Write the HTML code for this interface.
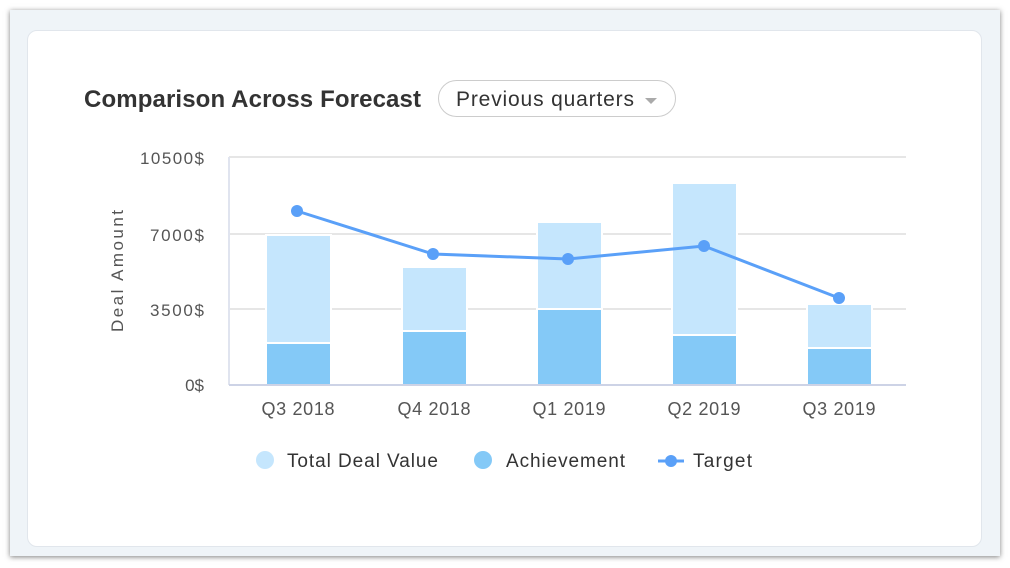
<!DOCTYPE html>
<html><head><meta charset="utf-8"><style>
body{margin:0;width:1010px;height:568px;background:#fff;overflow:hidden;font-family:"Liberation Sans",sans-serif}
.outer{position:absolute;left:10px;top:10px;width:990px;height:546px;background:#eff4f8;box-shadow:0 1px 5px rgba(0,0,0,.5)}
.card{position:absolute;left:27px;top:30px;width:953px;height:515px;background:#fff;border:1px solid #e1e6ec;border-radius:10px}
</style></head><body>
<div class="outer"></div>
<div class="card"></div>
<svg width="1010" height="568" style="position:absolute;left:0;top:0" font-family="Liberation Sans, sans-serif">
<text x="84" y="107" font-size="24" font-weight="bold" fill="#333" textLength="337">Comparison Across Forecast</text>
<rect x="438.5" y="80.5" width="237" height="36" rx="18" fill="#fff" stroke="#ccc"/>
<text x="456" y="106" font-size="21" fill="#333" textLength="178">Previous quarters</text>
<path d="M645 98 L657 98 L651 104 Z" fill="#aaa"/>
<g stroke="#e6e6e6" stroke-width="2">
<line x1="229" y1="157" x2="906" y2="157"/><line x1="229" y1="234" x2="906" y2="234"/><line x1="229" y1="309" x2="906" y2="309"/>
</g>
<line x1="229" y1="157" x2="229" y2="385" stroke="#e0e4ef" stroke-width="2"/>
<g font-size="17" fill="#555" text-anchor="end">
<text x="204" y="164" textLength="64">10500$</text><text x="204" y="241" textLength="54">7000$</text><text x="204" y="316" textLength="54">3500$</text><text x="204" y="391">0$</text>
</g>
<text transform="translate(123,271) rotate(-90)" font-size="17" fill="#555" text-anchor="middle" textLength="122">Deal Amount</text>
<g stroke="#fff" stroke-width="2">
<rect x="266" y="235" width="65" height="108" fill="#c5e6fd"/><rect x="266" y="343" width="65" height="42" fill="#84c9f7"/>
<rect x="402" y="267" width="65" height="64" fill="#c5e6fd"/><rect x="402" y="331" width="65" height="54" fill="#84c9f7"/>
<rect x="537" y="222" width="65" height="87" fill="#c5e6fd"/><rect x="537" y="309" width="65" height="76" fill="#84c9f7"/>
<rect x="672" y="183" width="65" height="152" fill="#c5e6fd"/><rect x="672" y="335" width="65" height="50" fill="#84c9f7"/>
<rect x="807" y="304" width="65" height="44" fill="#c5e6fd"/><rect x="807" y="348" width="65" height="37" fill="#84c9f7"/>
</g>
<line x1="229" y1="385" x2="906" y2="385" stroke="#cdd3e6" stroke-width="2"/>
<polyline points="297,211 433,254 568,259 704,246 839,298" fill="none" stroke="#5aa0f8" stroke-width="3"/>
<g fill="#5aa0f8"><circle cx="297" cy="211" r="6"/><circle cx="433" cy="254" r="6"/><circle cx="568" cy="259" r="6"/><circle cx="704" cy="246" r="6"/><circle cx="839" cy="298" r="6"/></g>
<g font-size="18" fill="#555" text-anchor="middle">
<text x="298" y="415" textLength="73">Q3 2018</text><text x="434" y="415" textLength="73">Q4 2018</text><text x="569" y="415" textLength="73">Q1 2019</text><text x="704" y="415" textLength="73">Q2 2019</text><text x="839" y="415" textLength="73">Q3 2019</text>
</g>
<circle cx="265" cy="460" r="9" fill="#c5e6fd"/>
<circle cx="483" cy="460" r="9" fill="#84c9f7"/>
<line x1="658" y1="461" x2="684" y2="461" stroke="#5aa0f8" stroke-width="3"/><circle cx="671" cy="461" r="6" fill="#5aa0f8"/>
<g font-size="19" fill="#333"><text x="287" y="467" textLength="151">Total Deal Value</text><text x="506" y="467" textLength="119">Achievement</text><text x="693" y="467" textLength="59">Target</text></g>
</svg>
</body></html>
